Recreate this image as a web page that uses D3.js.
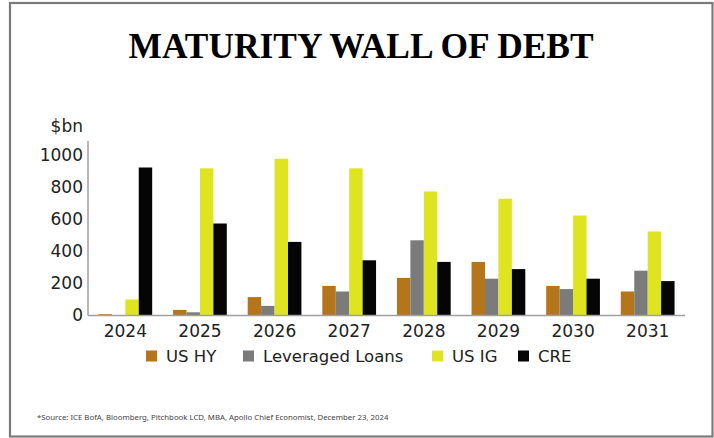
<!DOCTYPE html>
<html><head><meta charset="utf-8">
<script src="https://cdn.jsdelivr.net/npm/d3@7"></script>
<style>body{margin:0;background:#fff}svg{display:block}</style>
</head><body>
<svg id="chart" width="714" height="438"></svg>
<script>
const years = ["2024","2025","2026","2027","2028","2029","2030","2031"];
const seriesNames = ["US HY","Leveraged Loans","US IG","CRE"];
const usHY = [8, 35, 115, 185, 235, 335, 185, 150];
const leveragedLoans = [0, 20, 60, 150, 470, 230, 165, 280];
const usIG = [100, 920, 980, 920, 775, 730, 625, 525];
const cre = [925, 575, 460, 345, 335, 290, 230, 215];
const yTicks = [0, 200, 400, 600, 800, 1000];
const colors = ["#b5761b", "#7b7b7b", "#dfe420", "#050505"];

const seriesValues = [usHY, leveragedLoans, usIG, cre];
const svg = d3.select("#chart");

// frame
svg.append("rect").attr("x",10).attr("y",3).attr("width",702.5).attr("height",433.5)
  .attr("fill","none").attr("stroke","#7a7a7a").attr("stroke-width",2.2);

svg.append("text").attr("x",361).attr("y",58).attr("text-anchor","middle")
  .attr("font-family","Liberation Serif, serif").attr("font-weight","bold")
  .attr("font-size",36).attr("fill","#000").attr("textLength",465).attr("lengthAdjust","spacingAndGlyphs")
  .text("MATURITY WALL OF DEBT");

const x0 = d3.scaleBand().domain(years).range([88, 685]).paddingInner(0.28).paddingOuter(0.14);
const x1 = d3.scaleBand().domain(seriesNames).range([0, x0.bandwidth()]);
const y = d3.scaleLinear().domain([0, 1000]).range([315.5, 155.5]);

const font = "DejaVu Sans, sans-serif";

// bars
years.forEach((yr, i) => {
  const g = svg.append("g").attr("transform", `translate(${x0(yr)},0)`);
  seriesNames.forEach((s, j) => {
    const v = seriesValues[j][i];
    g.append("rect").attr("x", x1(s)).attr("y", y(v))
      .attr("width", x1.bandwidth()).attr("height", y(0) - y(v))
      .attr("fill", colors[j]);
  });
});

// y axis
const yAxis = svg.append("g").attr("transform","translate(88,0)")
  .call(d3.axisLeft(y).tickValues(yTicks).tickFormat(d3.format("d")).tickSize(0).tickPadding(5));
yAxis.select(".domain").remove();
yAxis.selectAll("text").attr("font-family",font).attr("font-size",17).attr("fill","#222");
svg.append("line").attr("x1",88).attr("x2",88).attr("y1",141).attr("y2",315.5)
  .attr("stroke","#a0a0a0").attr("stroke-width",1.5);

// x axis
const xAxis = svg.append("g").attr("transform","translate(0,315.5)")
  .call(d3.axisBottom(x0).tickSize(0).tickPadding(9));
xAxis.select(".domain").remove();
xAxis.selectAll("text").attr("font-family",font).attr("font-size",17).attr("fill","#222");
svg.append("line").attr("x1",88).attr("x2",685).attr("y1",315.5).attr("y2",315.5)
  .attr("stroke","#a0a0a0").attr("stroke-width",1.5);

svg.append("text").attr("x",83).attr("y",132).attr("text-anchor","end")
  .attr("font-family",font).attr("font-size",17).attr("fill","#222").text("$bn");

// legend
const legendX = [146, 243, 432, 518];
seriesNames.forEach((s, j) => {
  svg.append("rect").attr("x", legendX[j]).attr("y", 350.5).attr("width", 11).attr("height", 11)
    .attr("fill", colors[j]);
  svg.append("text").attr("x", legendX[j] + 20).attr("y", 362)
    .attr("font-family",font).attr("font-size",16.5).attr("fill","#222").text(s);
});

svg.append("text").attr("x",37).attr("y",420)
  .attr("font-family","Noto Sans, sans-serif").attr("font-size",7.8).attr("fill","#444")
  .text("*Source: ICE BofA, Bloomberg, Pitchbook LCD, MBA, Apollo Chief Economist, December 23, 2024");
</script>
</body></html>
